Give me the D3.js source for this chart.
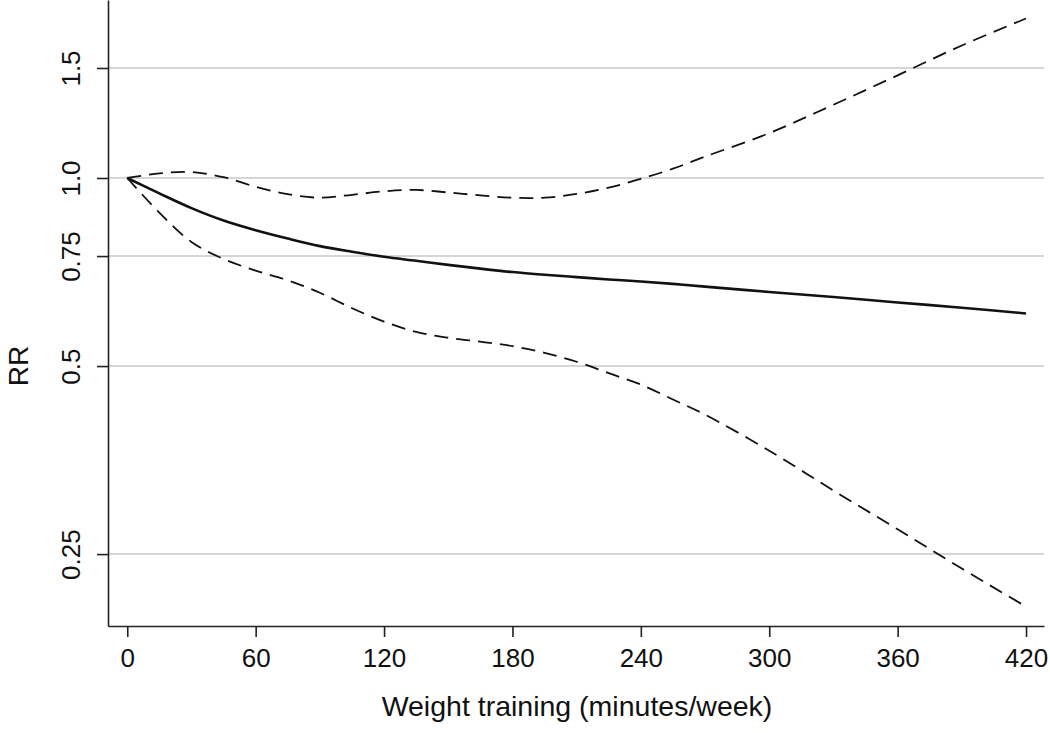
<!DOCTYPE html>
<html>
<head>
<meta charset="utf-8">
<script src="https://cdn.jsdelivr.net/npm/d3@7"></script>
<style>
  html, body { margin: 0; padding: 0; background: #fff; }
  svg { display: block; font-family: "Liberation Sans", Arial, sans-serif; }
</style>
</head>
<body>
<svg id="chart" width="1050" height="733"></svg>
<script>
// ---- data ----
const minutes = [0, 15, 30, 45, 60, 75, 90, 105, 120, 135, 150, 165, 180, 195, 210, 225, 240, 255, 270, 300, 330, 360, 390, 420];
const rr      = [1.0, 0.945, 0.895, 0.855, 0.825, 0.800, 0.778, 0.762, 0.748, 0.737, 0.726, 0.716, 0.707, 0.700, 0.694, 0.688, 0.683, 0.677, 0.670, 0.657, 0.645, 0.632, 0.620, 0.607];
const upper   = [1.0, 1.017, 1.022, 1.003, 0.968, 0.942, 0.930, 0.940, 0.952, 0.957, 0.948, 0.938, 0.930, 0.930, 0.943, 0.965, 0.997, 1.035, 1.082, 1.18, 1.31, 1.46, 1.63, 1.80];
const lower   = [1.0, 0.880, 0.790, 0.742, 0.711, 0.686, 0.655, 0.619, 0.589, 0.567, 0.555, 0.547, 0.538, 0.525, 0.508, 0.487, 0.467, 0.442, 0.418, 0.366, 0.316, 0.274, 0.237, 0.206];
const xTicks  = [0, 60, 120, 180, 240, 300, 360, 420];
const yTicks  = [0.25, 0.5, 0.75, 1.0, 1.5];
const yTickLabels = ["0.25", "0.5", "0.75", "1.0", "1.5"];
const xTitle = "Weight training (minutes/week)";
const yTitle = "RR";

// ---- layout ----
const svg = d3.select("#chart");
const pLeft = 108, pRight = 1044, pTop = 0, pBottom = 626;

const x = d3.scaleLinear().domain([-9, 428.4]).range([pLeft, pRight]);
const y = d3.scaleLog().domain([0.1918, 1.9273]).range([pBottom, pTop]);

// gridlines
svg.append("g")
  .selectAll("line")
  .data(yTicks)
  .join("line")
  .attr("x1", pLeft).attr("x2", pRight)
  .attr("y1", d => y(d)).attr("y2", d => y(d))
  .attr("stroke", "#c8c8c8")
  .attr("stroke-width", 1.5);

// x axis
const xAxis = svg.append("g")
  .attr("transform", `translate(0,${pBottom})`)
  .call(d3.axisBottom(x).tickValues(xTicks).tickSize(11).tickSizeOuter(0).tickPadding(12).tickFormat(d3.format("d")));
xAxis.select(".domain").attr("stroke", "#222").attr("stroke-width", 1.6);
xAxis.selectAll(".tick line").attr("stroke", "#222").attr("stroke-width", 1.6);
xAxis.selectAll(".tick text")
  .attr("font-size", 26).attr("fill", "#111")
  .attr("font-family", "'Liberation Sans', Arial, sans-serif");

// y axis
const yAxis = svg.append("g")
  .attr("transform", `translate(${pLeft},0)`)
  .call(d3.axisLeft(y).tickValues(yTicks).tickSize(11).tickSizeOuter(0).tickFormat((d, i) => yTickLabels[i]));
yAxis.select(".domain").attr("stroke", "#222").attr("stroke-width", 1.6);
yAxis.selectAll(".tick line").attr("stroke", "#222").attr("stroke-width", 1.6);
yAxis.selectAll(".tick text")
  .attr("font-size", 26).attr("fill", "#111")
  .attr("font-family", "'Liberation Sans', Arial, sans-serif")
  .attr("text-anchor", "middle")
  .attr("dy", 0)
  .attr("x", 0)
  .attr("transform", `translate(${80 - pLeft},0) rotate(-90)`);

// lines
const mk = arr => minutes.map((m, i) => [m, arr[i]]);
const line = d3.line().x(d => x(d[0])).y(d => y(d[1])).curve(d3.curveCatmullRom.alpha(0.5));

svg.append("path").attr("d", line(mk(upper)))
  .attr("fill", "none").attr("stroke", "#111").attr("stroke-width", 1.8).attr("stroke-dasharray", "14,8");
svg.append("path").attr("d", line(mk(lower)))
  .attr("fill", "none").attr("stroke", "#111").attr("stroke-width", 1.8).attr("stroke-dasharray", "14,8");
svg.append("path").attr("d", line(mk(rr)))
  .attr("fill", "none").attr("stroke", "#111").attr("stroke-width", 2.6);

// titles
svg.append("text")
  .attr("x", 577).attr("y", 716)
  .attr("text-anchor", "middle").attr("font-size", 28.5).attr("fill", "#111")
  .text(xTitle);
svg.append("text")
  .attr("transform", "translate(28,366) rotate(-90)")
  .attr("text-anchor", "middle").attr("font-size", 28).attr("fill", "#111")
  .text(yTitle);
</script>
</body>
</html>
